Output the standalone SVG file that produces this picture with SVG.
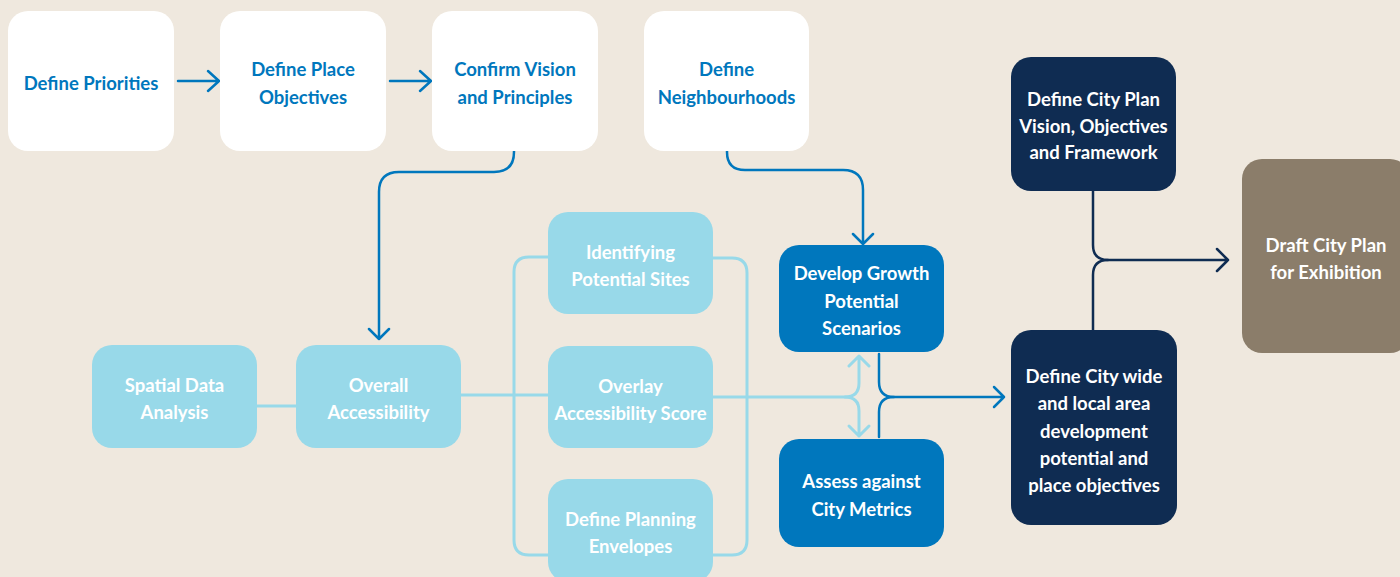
<svg xmlns="http://www.w3.org/2000/svg" width="1400" height="577" viewBox="0 0 1400 577">
<style>
.t{font-family:Lato,"Liberation Sans",sans-serif;font-weight:700;font-size:18.5px;text-anchor:middle}
.tb{fill:#0077BD}
.tw{fill:#FFFFFF}
.white{fill:#FFFFFF}
.light{fill:#98D9E9}
.blue{fill:#0077BD}
.navy{fill:#0F2C52}
.brown{fill:#8B7D6A}
.cb{fill:none;stroke:#0077BD;stroke-width:2.5;stroke-linecap:round;stroke-linejoin:round}
.cl{fill:none;stroke:#98D9E9;stroke-width:3;stroke-linecap:round;stroke-linejoin:round}
.cn{fill:none;stroke:#0F2C52;stroke-width:2.5;stroke-linecap:round;stroke-linejoin:round}
</style>
<rect width="1400" height="577" fill="#EFE8DE"/>
<g id="connectors">
  <path class="cb" d="M178 81 H219 M208 71 L219 81 L208 91"/>
  <path class="cb" d="M390 81 H431 M420 71 L431 81 L420 91"/>
  <path class="cb" d="M514 151 V152 Q514 172 494 172 H399 Q379 172 379 192 V339 M369 329 L379 339 L389 329"/>
  <path class="cb" d="M727 151 V152 Q727 170 745 170 H843 Q863 170 863 190 V244 M853 234 L863 244 L873 234"/>
  <path class="cl" d="M257 406 H296"/>
  <path class="cl" d="M461 395 H548"/>
  <path class="cl" d="M548 257 H529 Q514 257 514 272 V540 Q514 555 529 555 H548"/>
  <path class="cl" d="M712 258 H732 Q747 258 747 273 V540 Q747 555 732 555 H712"/>
  <path class="cl" d="M712 397 H845 Q859 397 859 383 V356 M849 366 L859 356 L869 366"/>
  <path class="cl" d="M845 397 Q859 397 859 411 V436 M849 426 L859 436 L869 426"/>
  <path class="cb" d="M879 354 V382 Q879 397 894 397 H1004 M994 387 L1004 397 L994 407"/>
  <path class="cb" d="M879 437 V412 Q879 397 894 397"/>
  <path class="cn" d="M1093 191 V245 Q1093 260 1108 260 H1228 M1217 249 L1228 260 L1217 271"/>
  <path class="cn" d="M1093 330 V275 Q1093 260 1108 260"/>
</g>
<g id="define-priorities"><rect class="white" x="8" y="11" width="166" height="140" rx="20"/><text class="t tb" x="91" y="90">Define Priorities</text></g>
<g id="define-place-objectives"><rect class="white" x="220" y="11" width="166" height="140" rx="20"/><text class="t tb" x="303" y="76">Define Place</text><text class="t tb" x="303" y="104">Objectives</text></g>
<g id="confirm-vision"><rect class="white" x="432" y="11" width="166" height="140" rx="20"/><text class="t tb" x="515" y="76">Confirm Vision</text><text class="t tb" x="515" y="104">and Principles</text></g>
<g id="define-neighbourhoods"><rect class="white" x="644" y="11" width="165" height="140" rx="20"/><text class="t tb" x="726.5" y="76">Define</text><text class="t tb" x="726.5" y="104">Neighbourhoods</text></g>
<g id="spatial-data"><rect class="light" x="92" y="345" width="165" height="103" rx="20"/><text class="t tw" x="174.5" y="392">Spatial Data</text><text class="t tw" x="174.5" y="419">Analysis</text></g>
<g id="overall-accessibility"><rect class="light" x="296" y="345" width="165" height="103" rx="20"/><text class="t tw" x="378.5" y="392">Overall</text><text class="t tw" x="378.5" y="419">Accessibility</text></g>
<g id="identifying-sites"><rect class="light" x="548" y="212" width="165" height="102" rx="20"/><text class="t tw" x="630.5" y="259">Identifying</text><text class="t tw" x="630.5" y="286">Potential Sites</text></g>
<g id="overlay-score"><rect class="light" x="548" y="346" width="165" height="102" rx="20"/><text class="t tw" x="630.5" y="393">Overlay</text><text class="t tw" x="630.5" y="420">Accessibility Score</text></g>
<g id="planning-envelopes"><rect class="light" x="548" y="479" width="165" height="103" rx="20"/><text class="t tw" x="630.5" y="526">Define Planning</text><text class="t tw" x="630.5" y="553">Envelopes</text></g>
<g id="develop-growth"><rect class="blue" x="779" y="245" width="165" height="107" rx="20"/><text class="t tw" x="861.5" y="280">Develop Growth</text><text class="t tw" x="861.5" y="308">Potential</text><text class="t tw" x="861.5" y="335">Scenarios</text></g>
<g id="assess-metrics"><rect class="blue" x="779" y="439" width="165" height="108" rx="20"/><text class="t tw" x="861.5" y="488">Assess against</text><text class="t tw" x="861.5" y="516">City Metrics</text></g>
<g id="city-plan-vision"><rect class="navy" x="1011" y="57" width="165" height="134" rx="20"/><text class="t tw" x="1093.5" y="106">Define City Plan</text><text class="t tw" x="1093.5" y="133">Vision, Objectives</text><text class="t tw" x="1093.5" y="159">and Framework</text></g>
<g id="city-wide"><rect class="navy" x="1011" y="330" width="166" height="195" rx="20"/><text class="t tw" x="1094" y="383">Define City wide</text><text class="t tw" x="1094" y="410">and local area</text><text class="t tw" x="1094" y="438">development</text><text class="t tw" x="1094" y="465">potential and</text><text class="t tw" x="1094" y="492">place objectives</text></g>
<g id="draft-city-plan"><rect class="brown" x="1242" y="159" width="168" height="194" rx="20"/><text class="t tw" x="1326" y="252">Draft City Plan</text><text class="t tw" x="1326" y="279">for Exhibition</text></g>
</svg>
